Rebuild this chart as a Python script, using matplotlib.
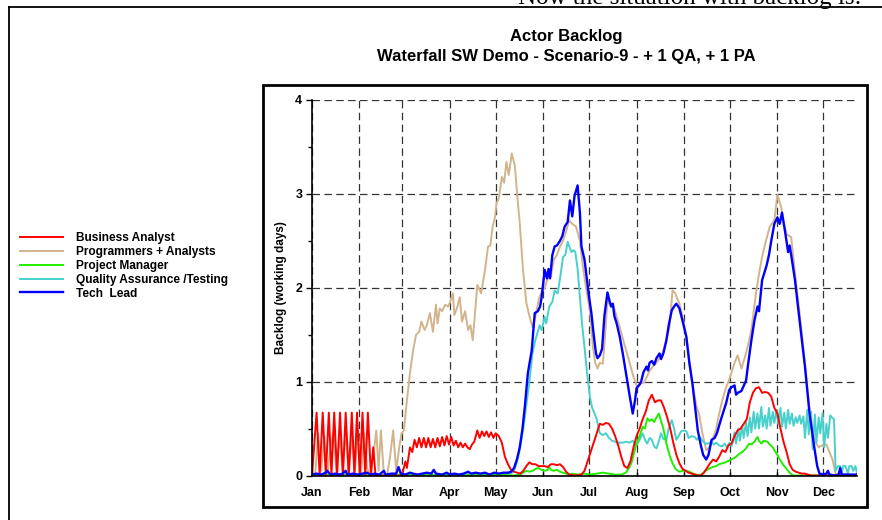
import matplotlib
matplotlib.use("Agg")
import matplotlib.pyplot as plt
from matplotlib.lines import Line2D
from matplotlib.patches import Rectangle

plt.rcParams['font.family'] = ['Liberation Sans', 'DejaVu Sans']

# day of year -> backlog (working days)
ba_days = [0, 3, 5, 7, 9, 11, 12.7, 14.5, 16.4, 18.3, 20.2, 22, 24, 26, 27.7, 29.4, 31.2, 33, 34.8, 36.5,
           38.5, 40, 41.5, 59, 59.5, 61, 62, 64, 65.5, 67, 68.5, 70, 71.5, 73, 74.5, 76, 77.5, 79, 80.5,
           82, 83.5, 85, 86.5, 88, 89.5, 91, 92.5, 94, 95.5, 97, 98.5, 100, 101.5, 103, 104.5, 106, 108,
           109.5, 111, 112.5, 114, 115.5, 117, 118.5, 120, 122, 124, 126, 128, 130, 132, 134, 136, 138,
           140, 142, 144, 146, 148, 150, 152, 154, 156, 158, 160, 162, 164, 166, 168, 172, 176, 178, 180,
           182, 184, 186, 188, 190, 192, 194, 196, 198, 200, 202, 204, 206, 208, 210, 212, 214, 216, 218,
           220, 222, 224, 226, 228, 230, 232, 234, 236, 238, 240, 242, 244, 246, 248, 252, 254, 256, 258,
           260, 262, 264, 266, 268, 270, 272, 274, 276, 278, 280, 282, 284, 286, 288, 290, 292, 294, 296,
           298, 300, 302, 304, 306, 308, 310, 312, 314, 316, 318, 320, 322, 324, 326, 356]
ba_vals = [0, 0.67, 0, 0.67, 0, 0.67, 0, 0.67, 0, 0.67, 0, 0.67, 0, 0.67, 0, 0.67, 0, 0.67, 0, 0.67,
           0, 0.3, 0, 0, 0.05, 0.15, 0.08, 0.3, 0.25, 0.38, 0.3, 0.4, 0.3, 0.4, 0.3, 0.4, 0.3, 0.39, 0.3,
           0.4, 0.31, 0.41, 0.32, 0.42, 0.33, 0.41, 0.32, 0.37, 0.3, 0.35, 0.3, 0.34, 0.3, 0.28, 0.33, 0.36, 0.48,
           0.4, 0.47, 0.42, 0.47, 0.41, 0.46, 0.4, 0.45, 0.42, 0.35, 0.2, 0.12, 0.06, 0.04, 0.03, 0.02, 0.05,
           0.1, 0.14, 0.12, 0.12, 0.1, 0.1, 0.1, 0.09, 0.12, 0.12, 0.11, 0.12, 0.09, 0.04, 0.01, 0.0, 0.01, 0.05, 0.15,
           0.25, 0.35, 0.45, 0.55, 0.54, 0.56, 0.55, 0.5, 0.42, 0.32, 0.2, 0.1, 0.08, 0.15, 0.3, 0.42, 0.5, 0.6, 0.68,
           0.8, 0.86, 0.78, 0.8, 0.8, 0.72, 0.62, 0.5, 0.35, 0.22, 0.13, 0.07, 0.05, 0.03, 0.02, 0.0, 0.0, 0.03, 0.08,
           0.13, 0.17, 0.15, 0.2, 0.27, 0.25, 0.32, 0.34, 0.42, 0.48, 0.5, 0.55, 0.6, 0.78, 0.88, 0.93, 0.94, 0.88, 0.89,
           0.88, 0.84, 0.72, 0.66, 0.5, 0.36, 0.25, 0.12, 0.06, 0.04, 0.03, 0.02, 0.02, 0.01, 0.0, 0.0]

pa_days = [0, 2, 4, 6, 8, 10, 12, 14, 16, 18, 20, 22, 24, 26, 28, 30, 32, 34, 36, 38, 40, 42, 43.5, 45,
           47, 49, 51, 53, 55, 57, 58.5, 60, 62, 64, 66, 68, 70, 71.5, 73.5, 75, 77, 79, 81, 82, 83.5, 85,
           87, 89, 90, 92, 93, 95, 96.5, 98, 100, 102, 103.5, 105, 108, 110.5, 113, 115, 116.5, 118, 119.5,
           120.5, 122, 124, 125.5, 127, 128.5, 130.5, 132.5, 134, 135.7, 137.7, 140, 142, 144, 146, 148.5,
           150.5, 152, 154, 156, 158, 160, 162, 164, 166, 168, 170, 172.5, 175, 177, 179, 181.5, 183.5, 185,
           186.5, 188, 190, 191.5, 193, 195, 196.5, 198, 201, 204, 207.5, 210, 212.5, 215, 217, 220, 222.5,
           225, 227, 229, 231, 233.5, 235.5, 237, 240, 242, 244.5, 246.5, 248.5, 251, 253, 255, 257.5, 259.5,
           261.5, 264, 266, 268, 270.5, 272.5, 274.5, 276, 278, 280.5, 283.5, 285, 287, 290, 292, 294, 296.5,
           299, 302, 304, 306.5, 308, 310, 313, 316, 318, 320, 322, 323.5, 325, 327, 329, 331, 333, 336, 338,
           340, 342, 356]
pa_vals = [0, 0, 0.45, 0.05, 0.42, 0, 0.3, 0.47, 0.02, 0.45, 0.05, 0.47, 0, 0.43, 0.05, 0.48, 0, 0.45, 0.08, 0,
           0.2, 0.48, 0.05, 0.48, 0, 0, 0.2, 0.48, 0.05, 0.3, 0.45, 0.48, 0.8, 1.09, 1.33, 1.5, 1.53, 1.64, 1.55,
           1.6, 1.73, 1.53, 1.82, 1.62, 1.78, 1.75, 1.82, 1.8, 1.84, 1.94, 1.71, 1.8, 1.9, 1.64, 1.75, 1.55, 1.6,
           1.44, 2.03, 1.94, 2.19, 2.44, 2.45, 2.65, 2.75, 2.9, 2.95, 3.18, 3.12, 3.34, 3.2, 3.43, 3.3, 3.0, 2.69,
           2.22, 1.84, 1.7, 1.58, 1.7, 1.9, 1.97, 2.0, 2.1, 2.12, 2.3, 2.35, 2.44, 2.5, 2.6, 2.72, 2.68, 2.65, 2.5,
           2.22, 2.0, 1.76, 1.37, 1.2, 1.14, 1.2, 1.19, 1.5, 1.87, 1.8, 1.83, 1.75, 1.58, 1.4, 1.2, 1.05, 0.94,
           0.98, 0.99, 1.1, 1.16, 1.2, 1.25, 1.3, 1.42, 1.58, 1.97, 1.95, 1.83, 1.7, 1.48, 1.2, 0.98, 0.75, 0.64,
           0.45, 0.27, 0.3, 0.37, 0.5, 0.66, 0.8, 0.94, 1.02, 1.12, 1.2, 1.28, 1.14, 1.3, 1.4, 1.55, 1.94, 2.15,
           2.33, 2.5, 2.65, 2.72, 2.99, 2.86, 2.7, 2.57, 2.54, 2.08, 1.8, 1.51, 1.2, 0.94, 0.7, 0.48, 0.35, 0.3,
           0.32, 0.33, 0.25, 0.17, 0.02, 0]

pm_days = [0, 20, 40, 60, 100, 120, 132, 136, 138, 140, 142, 144, 146, 148, 150, 152, 154, 155, 156, 158,
           160, 162, 164, 166, 168, 170, 174, 178, 182, 186, 190, 194, 198, 202, 205, 207.5, 209, 210.5, 212,
           214, 216, 217.5, 219, 220.5, 222, 223.5, 225, 226.6, 228, 229.5, 231.5, 233.5, 235.5, 237.5, 240,
           242, 244.6, 246.6, 249, 251, 253, 255, 257, 259, 261.6, 264, 266, 268, 270, 272.6, 275, 277, 279,
           281, 283, 285.6, 287, 289, 291, 292, 293.5, 295, 297.5, 299, 301, 302, 304, 305.6, 308, 310, 312,
           314, 356]
pm_vals = [0, 0.01, 0, 0.01, 0, 0.01, 0, 0.01, 0.03, 0.05, 0.04, 0.05, 0.07, 0.08, 0.06, 0.05, 0.06, 0.09, 0.06,
           0.05, 0.06, 0.04, 0.03, 0.02, 0.01, 0.02, 0.01, 0.02, 0.01, 0.02, 0.03, 0.02, 0.01, 0.01, 0.03, 0.09,
           0.15, 0.25, 0.34, 0.42, 0.52, 0.5, 0.61, 0.58, 0.6, 0.57, 0.62, 0.66, 0.58, 0.5, 0.34, 0.22, 0.13, 0.07,
           0.04, 0.05, 0.05, 0.04, 0.02, 0.01, 0, 0.02, 0.05, 0.07, 0.09, 0.1, 0.12, 0.13, 0.14, 0.16, 0.18, 0.2,
           0.23, 0.25, 0.28, 0.34, 0.33, 0.36, 0.41, 0.37, 0.34, 0.37, 0.36, 0.33, 0.3, 0.27, 0.22, 0.17, 0.11,
           0.07, 0.03, 0, 0]

qa_days = [0, 30, 60, 90, 120, 130, 132, 134, 136, 138, 140, 142, 144, 146, 148.7, 150, 152, 153, 155, 157,
           158.5, 160.5, 162, 164, 165.5, 167, 168.5, 169.5, 171, 172, 173.5, 175, 176.5, 178, 179.5, 181.5,
           183, 184.6, 186, 188, 190, 192, 194, 196, 198, 200, 203, 205, 207.5, 209.5, 211, 212.7, 214, 216,
           217.5, 219, 220.5, 222, 223.5, 225, 226.5, 228, 229.5, 231.5, 233, 235, 236.5, 238, 239.5, 241,
           243, 244.6, 246, 248, 250, 251.5, 253, 255, 257, 259, 261, 262.5, 264, 266, 268, 269.5, 271, 272.6,
           274, 275, 276, 277, 278.5, 279.5, 281, 282, 283.5, 284.5, 286, 287, 288.5, 289.5, 291, 292, 293.5,
           294.5, 296, 297, 298.5, 299.5, 301, 302, 303.5, 304.5, 306, 307, 308.5, 309.5, 311, 312, 313.5,
           314.5, 316, 317, 318.5, 319.5, 321, 322, 323.5, 324.5, 326, 327, 328.5, 329.5, 331, 332, 333.5,
           334.5, 336, 337, 338.5, 339.5, 341, 342, 343.5, 345, 346, 347, 348.5, 350, 351, 352.5, 353.5, 355,
           356]
qa_vals = [0, 0.01, 0, 0.01, 0.01, 0.02, 0.05, 0.15, 0.3, 0.5, 0.75, 1.0, 1.3, 1.45, 1.6, 1.55, 1.69, 1.62,
           1.8, 1.85, 1.97, 1.94, 2.1, 2.33, 2.35, 2.49, 2.42, 2.38, 2.4, 2.38, 2.2, 1.9, 1.6, 1.37, 1.12, 0.84,
           0.72, 0.66, 0.6, 0.45, 0.43, 0.45, 0.4, 0.37, 0.36, 0.35, 0.35, 0.36, 0.35, 0.37, 0.33, 0.34, 0.38,
           0.45, 0.38, 0.34, 0.4, 0.38, 0.31, 0.29, 0.36, 0.45, 0.39, 0.38, 0.5, 0.59, 0.5, 0.38, 0.42, 0.47,
           0.48, 0.47, 0.4, 0.42, 0.41, 0.38, 0.42, 0.37, 0.34, 0.34, 0.36, 0.33, 0.35, 0.32, 0.31, 0.34, 0.3,
           0.35, 0.31, 0.36, 0.46, 0.34, 0.5, 0.37, 0.53, 0.4, 0.57, 0.42, 0.62, 0.46, 0.68, 0.5, 0.66, 0.5,
           0.73, 0.52, 0.64, 0.5, 0.72, 0.53, 0.68, 0.56, 0.7, 0.55, 0.72, 0.52, 0.67, 0.5, 0.7, 0.55, 0.66,
           0.53, 0.62, 0.56, 0.64, 0.55, 0.63, 0.4, 0.7, 0.44, 0.68, 0.28, 0.65, 0.35, 0.62, 0.45, 0.66, 0.3,
           0.55, 0.4, 0.64, 0.62, 0.6, 0.05, 0.1, 0.1, 0.02, 0.1, 0.1, 0.02, 0.1, 0.1, 0.05, 0.1, 0.02]

tl_days = [0, 3, 6, 9, 10, 12, 15, 18, 20, 22, 23, 27, 30, 33, 36, 38, 41, 44, 47, 48, 52, 55, 56.5, 58,
           61, 64, 66, 69, 72, 75, 78, 79.5, 81, 85, 88, 90, 93, 96, 99, 102, 104, 107, 110, 113, 116, 119,
           122, 125, 128, 130, 132, 134, 135.7, 137.5, 139, 141, 143.5, 145.5, 147.5, 149, 150, 152, 153.5,
           154.5, 155.5, 157, 158.5, 160, 162, 163.5, 165, 167, 168.5, 170, 171.5, 173.5, 175, 176, 178, 179.5,
           181, 182.5, 184, 185.5, 186.5, 188, 189.5, 191, 193, 194.5, 195.5, 196.5, 197.5, 199, 201, 203,
           205.5, 207.5, 209.5, 211, 212, 214, 215, 216.5, 218.5, 219.5, 220.5, 222, 223.5, 225, 227, 228,
           229.5, 231.5, 233, 235, 236.5, 238, 240, 242, 244.5, 246.5, 248.5, 250.5, 252, 254, 255.5, 257.5,
           259, 261, 263, 264.5, 267, 270.5, 272.5, 274, 276, 277, 278, 280.5, 283.5, 285, 287, 289, 291, 292,
           294, 297, 298.5, 300, 302, 304, 305.5, 307, 309, 311, 312, 313, 315.5, 318.5, 322, 325, 328, 330,
           331.5, 334, 336, 337, 338, 342, 344, 345, 346, 350, 356]
tl_vals = [0.01, 0.02, 0.01, 0.03, 0.05, 0.01, 0.02, 0.01, 0.02, 0.05, 0.01, 0.02, 0.01, 0.02, 0.03, 0.01,
           0.02, 0.01, 0.05, 0.01, 0.02, 0.02, 0.09, 0.02, 0.01, 0.03, 0.02, 0.01, 0.02, 0.03, 0.02, 0.06, 0.02,
           0.01, 0.03, 0.01, 0.02, 0.01, 0.02, 0.04, 0.02, 0.03, 0.02, 0.03, 0.01, 0.03, 0.02, 0.03, 0.03, 0.04,
           0.08, 0.18, 0.3, 0.5, 0.73, 1.09, 1.33, 1.73, 1.75, 1.8, 1.9, 2.19, 2.1, 2.2, 2.1, 2.35, 2.44, 2.45,
           2.5, 2.55, 2.65, 2.7, 2.93, 2.76, 2.98, 3.09, 2.8, 2.44, 2.3, 2.1, 1.9, 1.73, 1.5, 1.3, 1.25, 1.28,
           1.35, 1.7, 1.95, 1.85, 1.8, 1.83, 1.7, 1.62, 1.48, 1.3, 1.05, 0.85, 0.66, 0.8, 0.93, 0.97, 1.0, 1.1,
           1.16, 1.12, 1.2, 1.22, 1.18, 1.25, 1.3, 1.24, 1.3, 1.44, 1.6, 1.76, 1.8, 1.83, 1.78, 1.65, 1.48, 1.2,
           0.98, 0.7, 0.48, 0.32, 0.22, 0.17, 0.22, 0.38, 0.4, 0.45, 0.59, 0.77, 0.91, 0.94, 0.96, 0.86, 0.88,
           0.9, 1.01, 1.2, 1.44, 1.65, 1.8, 1.75, 2.08, 2.24, 2.35, 2.5, 2.68, 2.75, 2.68, 2.8, 2.6, 2.38, 2.45,
           2.35, 2.08, 1.65, 1.16, 0.66, 0.31, 0.1, 0.02, 0.01, 0.02, 0.05, 0.01, 0, 0.01, 0.08, 0.01, 0.01, 0.01]

month_starts = [0, 31, 59, 90, 120, 151, 181, 212, 243, 273, 304, 334]
month_labels = ['Jan', 'Feb', 'Mar', 'Apr', 'May', 'Jun', 'Jul', 'Aug', 'Sep', 'Oct', 'Nov', 'Dec']

series = [
    ("Business Analyst", ba_days, ba_vals, "#ff0000", 1.4),
    ("Programmers + Analysts", pa_days, pa_vals, "#d2b48c", 1.4),
    ("Project Manager", pm_days, pm_vals, "#22ee00", 1.4),
    ("Quality Assurance /Testing", qa_days, qa_vals, "#48d1cc", 1.4),
    ("Tech  Lead", tl_days, tl_vals, "#0000ff", 1.7),
]

fig = plt.figure(figsize=(8.82, 5.20), dpi=100)
ax = fig.add_axes([312 / 882, 44.5 / 520, 545 / 882, 375.5 / 520])

# draw order: tan and cyan underneath, blue on top
order = [1, 3, 2, 0, 4]
handles = [None] * len(series)
for i in order:
    name, d, v, c, lw = series[i]
    ln, = ax.plot(d, v, color=c, lw=lw, label=name, solid_joinstyle='round')
    handles[i] = ln

ax.set_xlim(0, 356)
ax.set_ylim(0, 4)
ax.set_xticks(month_starts)
ax.set_xticklabels(month_labels)
ax.set_yticks([0, 1, 2, 3, 4])
ax.set_yticks([0.5, 1.5, 2.5, 3.5], minor=True)
ax.grid(True, which='major', ls=(0, (6, 3.5)), color='#333333', lw=0.9)
ax.set_axisbelow(True)

for s in ['top', 'right']:
    ax.spines[s].set_visible(False)
for s in ['left', 'bottom']:
    ax.spines[s].set_linewidth(1.2)

ax.tick_params(axis='y', which='major', direction='out', length=4, width=1, pad=3)
ax.tick_params(axis='y', which='minor', direction='out', length=3, width=1)
ax.tick_params(axis='x', direction='in', length=3, width=1, pad=8)
for lab in ax.get_xticklabels() + ax.get_yticklabels():
    lab.set_fontweight('bold')
    lab.set_fontsize(9)

ax.set_ylabel("Backlog (working days)", fontsize=8.5, fontweight='bold')
ax.yaxis.set_label_coords(-0.046, 0.5)

fig.text(566 / 882, 1 - 37 / 520, "Actor Backlog", ha='center', va='center',
         fontsize=12, fontweight='bold')
fig.text(566 / 882, 1 - 57 / 520, "Waterfall SW Demo - Scenario-9 - + 1 QA, + 1 PA",
         ha='center', va='center', fontsize=12, fontweight='bold')

fig.legend(handles, [s[0] for s in series], loc='upper left',
           bbox_to_anchor=(20 / 882, 1 - 232 / 520), frameon=False,
           borderpad=0, borderaxespad=0, handlelength=3.6, handletextpad=1.1,
           labelspacing=0.16, prop={'weight': 'bold', 'size': 8.6})

# chart frame and page edges
fig.add_artist(Rectangle((263 / 882, 13 / 520), 604 / 882, 422 / 520, transform=fig.transFigure,
                         fill=False, ec='black', lw=2))
fig.add_artist(Line2D([9 / 882, 1], [1 - 7 / 520, 1 - 7 / 520], transform=fig.transFigure,
                      color='black', lw=1.3))
fig.add_artist(Line2D([9 / 882, 9 / 882], [1 - 7 / 520, 0], transform=fig.transFigure,
                      color='black', lw=1.3))
fig.text(862 / 882, 1 - 4 / 520, "Now the situation with backlog is:", ha='right', va='baseline',
         fontsize=18, family='Liberation Serif')

fig.savefig("out.png", dpi=100)
